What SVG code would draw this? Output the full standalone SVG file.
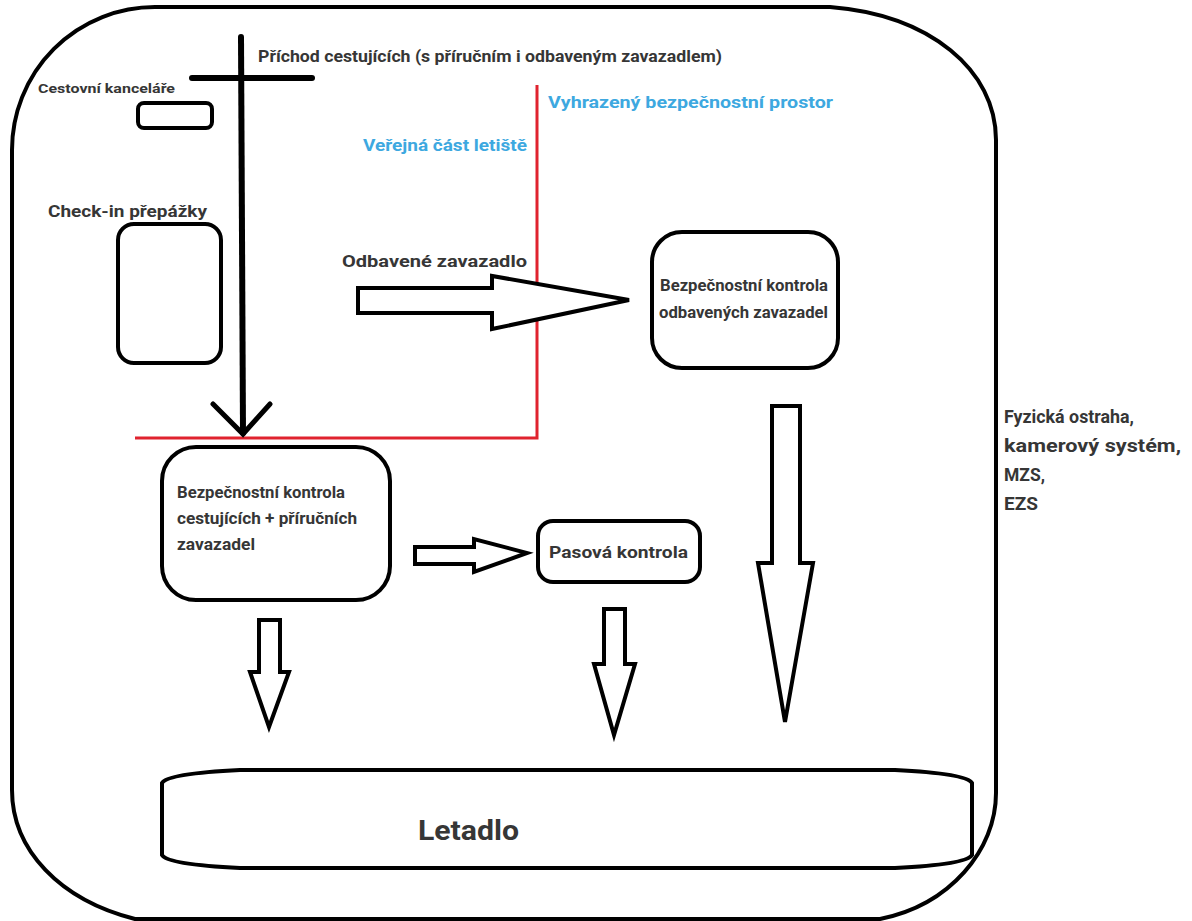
<svg xmlns="http://www.w3.org/2000/svg" width="1192" height="921" viewBox="0 0 1192 921">
  <style>
    .ln { fill: none; stroke: #000; stroke-width: 4; stroke-linejoin: round; stroke-linecap: round; }
    .box { fill: #fff; stroke: #000; stroke-width: 4; }
    .arrow { fill: #fff; stroke: #000; stroke-width: 4; stroke-linejoin: miter; }
    .t { font-family: Roboto, "Open Sans", "Noto Sans", sans-serif; font-weight: bold; fill: #363636; font-size: 17px; }
    .small { font-size: 13.5px; }
    .side { font-size: 17.5px; }
    .big { font-size: 28px; }
    .blue { fill: #3da8e0; }
    .zone { fill: none; stroke: #e0232e; stroke-width: 3; }
  </style>

  <rect width="1192" height="921" fill="#fff"/>

  <!-- outer perimeter of the airport -->
  <g id="perimeter">
    <path class="ln" d="M155,7 H830 C930,15 996,70 996,140 V793 C996,850 950,905 880,919 H135 C60,900 12,850 12,790 V150 A143,143 0 0 1 155,7 Z"/>
  </g>

  <!-- public / restricted zone boundary -->
  <g id="zone-boundary">
    <polyline class="zone" points="537,85 537,438 135,438"/>
    <text class="t blue" x="548" y="108" textLength="285" lengthAdjust="spacingAndGlyphs">Vyhrazený bezpečnostní prostor</text>
    <text class="t blue" x="363" y="151" textLength="164" lengthAdjust="spacingAndGlyphs">Veřejná část letiště</text>
  </g>

  <!-- passenger arrival line -->
  <g id="arrival">
    <line x1="192" y1="78" x2="312" y2="78" stroke="#000" stroke-width="6" stroke-linecap="round"/>
    <text class="t" x="258" y="62" textLength="464" lengthAdjust="spacingAndGlyphs">Příchod cestujících (s příručním i odbaveným zavazadlem)</text>
  </g>

  <g id="travel-agencies">
    <rect class="box" x="138" y="103" width="74" height="25" rx="6"/>
    <text class="t small" x="38" y="93" textLength="137" lengthAdjust="spacingAndGlyphs">Cestovní kanceláře</text>
  </g>

  <g id="check-in">
    <rect class="box" x="118" y="224" width="103" height="139" rx="16"/>
    <text class="t" x="48" y="217" textLength="159" lengthAdjust="spacingAndGlyphs">Check-in přepážky</text>
  </g>

  <g id="checked-baggage-screening">
    <rect class="box" x="652" y="232" width="186" height="136" rx="30"/>
    <text class="t" x="660" y="291" textLength="168" lengthAdjust="spacingAndGlyphs">Bezpečnostní kontrola</text>
    <text class="t" x="659" y="318" textLength="169" lengthAdjust="spacingAndGlyphs">odbavených zavazadel</text>
  </g>

  <g id="passenger-screening">
    <rect class="box" x="162" y="447" width="228" height="153" rx="34"/>
    <text class="t" x="177" y="498" textLength="168" lengthAdjust="spacingAndGlyphs">Bezpečnostní kontrola</text>
    <text class="t" x="177" y="524" textLength="180" lengthAdjust="spacingAndGlyphs">cestujících + příručních</text>
    <text class="t" x="177" y="550" textLength="78" lengthAdjust="spacingAndGlyphs">zavazadel</text>
  </g>

  <g id="passport-control">
    <rect class="box" x="538" y="521" width="162" height="61" rx="15"/>
    <text class="t" x="549" y="558" textLength="139" lengthAdjust="spacingAndGlyphs">Pasová kontrola</text>
  </g>

  <g id="aircraft">
    <path class="box" d="M240,770 H895 C935,772 968,776 972,783 V855 C968,862 935,866 895,868 H240 C200,866 166,862 162,855 V783 C166,776 200,772 240,770 Z"/>
    <text class="t big" x="418" y="840" textLength="101" lengthAdjust="spacingAndGlyphs">Letadlo</text>
  </g>

  <g id="security-measures">
    <text class="t side" x="1004" y="423" textLength="130" lengthAdjust="spacingAndGlyphs">Fyzická ostraha,</text>
    <text class="t side" x="1004" y="452" textLength="177" lengthAdjust="spacingAndGlyphs">kamerový systém,</text>
    <text class="t side" x="1004" y="481" textLength="41" lengthAdjust="spacingAndGlyphs">MZS,</text>
    <text class="t side" x="1004" y="510" textLength="34" lengthAdjust="spacingAndGlyphs">EZS</text>
  </g>

  <!-- flows -->
  <g id="connectors">
    <!-- passenger walkway down to security -->
    <line x1="241" y1="37" x2="243" y2="433" stroke="#000" stroke-width="6" stroke-linecap="round"/>
    <polyline points="213,404 243,434 270,404" fill="none" stroke="#000" stroke-width="5" stroke-linecap="round"/>

    <!-- checked baggage to screening -->
    <polygon class="arrow" points="358,288 492,288 492,276 629,300 492,329 492,313 358,313"/>
    <text class="t" x="342" y="267" textLength="185" lengthAdjust="spacingAndGlyphs">Odbavené zavazadlo</text>

    <!-- screened baggage to aircraft -->
    <polygon class="arrow" points="772,406 800,406 800,563 813,563 785,722 758,563 772,563"/>

    <!-- passenger screening to passport control -->
    <polygon class="arrow" points="415,547 474,547 474,539 527,553 474,572 474,564 415,564"/>

    <!-- passenger screening to aircraft -->
    <polygon class="arrow" points="259,620 280,620 280,672 289,672 269,727 250,672 259,672"/>

    <!-- passport control to aircraft -->
    <polygon class="arrow" points="604,609 625,609 625,664 635,664 614,735 594,664 604,664"/>
  </g>
</svg>
